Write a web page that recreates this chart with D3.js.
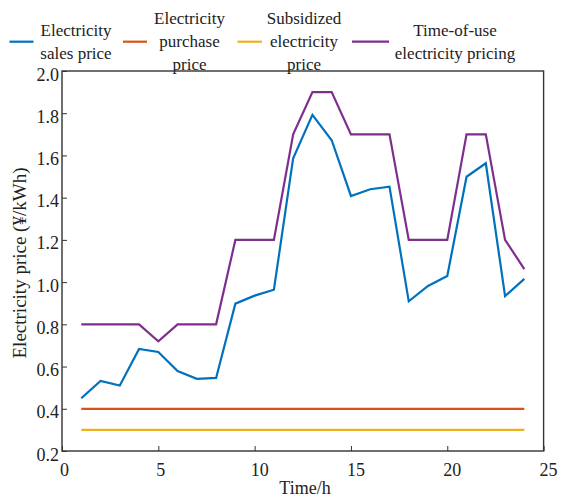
<!DOCTYPE html>
<html>
<head>
<meta charset="utf-8">
<script src="https://cdn.jsdelivr.net/npm/d3@7"></script>
<style>
html,body{margin:0;padding:0;background:#fff;}
svg text{font-family:"Liberation Serif","Tinos","Times New Roman","DejaVu Serif",serif !important;}
</style>
</head>
<body>
<div id="chart"></div>
<script>
// ---- data ----
const hours = [1,2,3,4,5,6,7,8,9,10,11,12,13,14,15,16,17,18,19,20,21,22,23,24];
const salesPrice = [0.45,0.532,0.51,0.683,0.669,0.579,0.542,0.546,0.898,0.936,0.964,1.587,1.792,1.672,1.408,1.44,1.452,0.909,0.982,1.029,1.499,1.563,0.934,1.015];
const purchasePrice = [0.4,0.4,0.4,0.4,0.4,0.4,0.4,0.4,0.4,0.4,0.4,0.4,0.4,0.4,0.4,0.4,0.4,0.4,0.4,0.4,0.4,0.4,0.4,0.4];
const subsidizedPrice = [0.3,0.3,0.3,0.3,0.3,0.3,0.3,0.3,0.3,0.3,0.3,0.3,0.3,0.3,0.3,0.3,0.3,0.3,0.3,0.3,0.3,0.3,0.3,0.3];
const touPrice = [0.8,0.8,0.8,0.8,0.72,0.8,0.8,0.8,1.2,1.2,1.2,1.7,1.9,1.9,1.7,1.7,1.7,1.2,1.2,1.2,1.7,1.7,1.2,1.062];
const xTicks = [0,5,10,15,20,25];
const yTicks = [0.2,0.4,0.6,0.8,1.0,1.2,1.4,1.6,1.8,2.0];
const seriesNames = [["Electricity","sales price"],["Electricity","purchase","price"],["Subsidized","electricity","price"],["Time-of-use","electricity pricing"]];
const seriesColors = ["#0072BD","#D95319","#EDB120","#7E2F8E"];
const xLabel = "Time/h";
const yLabel = "Electricity price (\u00A5/kWh)";

// ---- layout ----
const W = 573, H = 502;
const L = 62, R = 543.6, T = 71, B = 451;
const svg = d3.select("#chart").append("svg").attr("width", W).attr("height", H);

const x = d3.scaleLinear().domain([0,25]).range([L,R]);
const y = d3.scaleLinear().domain([0.2,2.0]).range([B,T]);

const axisColor = "#333";
const fs = 18;

// box frame
svg.append("rect").attr("x",L).attr("y",T).attr("width",R-L).attr("height",B-T)
  .attr("fill","none").attr("stroke",axisColor).attr("stroke-width",1.4);

// x axis
const xAxis = svg.append("g").attr("transform",`translate(0,${B})`)
  .call(d3.axisBottom(x).tickValues(xTicks).tickSize(-5).tickSizeOuter(0).tickFormat(d3.format("d")));
xAxis.attr("font-family",null);
xAxis.select(".domain").remove();
xAxis.selectAll(".tick line").attr("stroke",axisColor);
xAxis.selectAll(".tick text").attr("fill","#222").attr("font-size",fs)
  .attr("y",0).attr("dy",null).attr("transform",d=>`translate(${String(d).length>1?4.5:2},25)`);

// y axis
const yAxis = svg.append("g").attr("transform",`translate(${L},0)`)
  .call(d3.axisLeft(y).tickValues(yTicks).tickSize(-5).tickSizeOuter(0).tickFormat(d3.format(".1f")));
yAxis.attr("font-family",null);
yAxis.select(".domain").remove();
yAxis.selectAll(".tick line").attr("stroke",axisColor);
yAxis.selectAll(".tick text").attr("fill","#222").attr("font-size",fs)
  .attr("x",-3).attr("dy",null).attr("y",9);

// axis labels
svg.append("text").attr("x",305).attr("y",494).attr("text-anchor","middle")
  .attr("font-size",fs).attr("fill","#222").text(xLabel);
svg.append("text").attr("transform",`translate(26,263) rotate(-90)`).attr("text-anchor","middle")
  .attr("font-size",19).attr("fill","#222").text(yLabel);

// lines
const allSeries = [salesPrice,purchasePrice,subsidizedPrice,touPrice];
const line = d3.line().x((d,i)=>x(hours[i])).y(d=>y(d));
allSeries.forEach((s,k)=>{
  svg.append("path").datum(s).attr("d",line).attr("fill","none")
    .attr("stroke",seriesColors[k]).attr("stroke-width",2.2)
    .attr("stroke-linejoin","miter");
});

// legend
const legendItems = [
  {x0:9.5, x1:33.5, tx:76},
  {x0:123, x1:147, tx:189.5},
  {x0:237.5, x1:262, tx:304},
  {x0:352, x1:389, tx:455}
];
const legY = 41.7, lh = 23;
legendItems.forEach((it,k)=>{
  svg.append("line").attr("x1",it.x0).attr("x2",it.x1).attr("y1",legY).attr("y2",legY)
    .attr("stroke",seriesColors[k]).attr("stroke-width",2.2);
  const lines = seriesNames[k];
  const n = lines.length;
  lines.forEach((t,j)=>{
    svg.append("text").attr("x",it.tx)
      .attr("y", legY + (j-(n-1)/2)*lh + 5.5)
      .attr("text-anchor","middle").attr("font-size",17).attr("fill","#222").text(t);
  });
});
</script>
</body>
</html>
